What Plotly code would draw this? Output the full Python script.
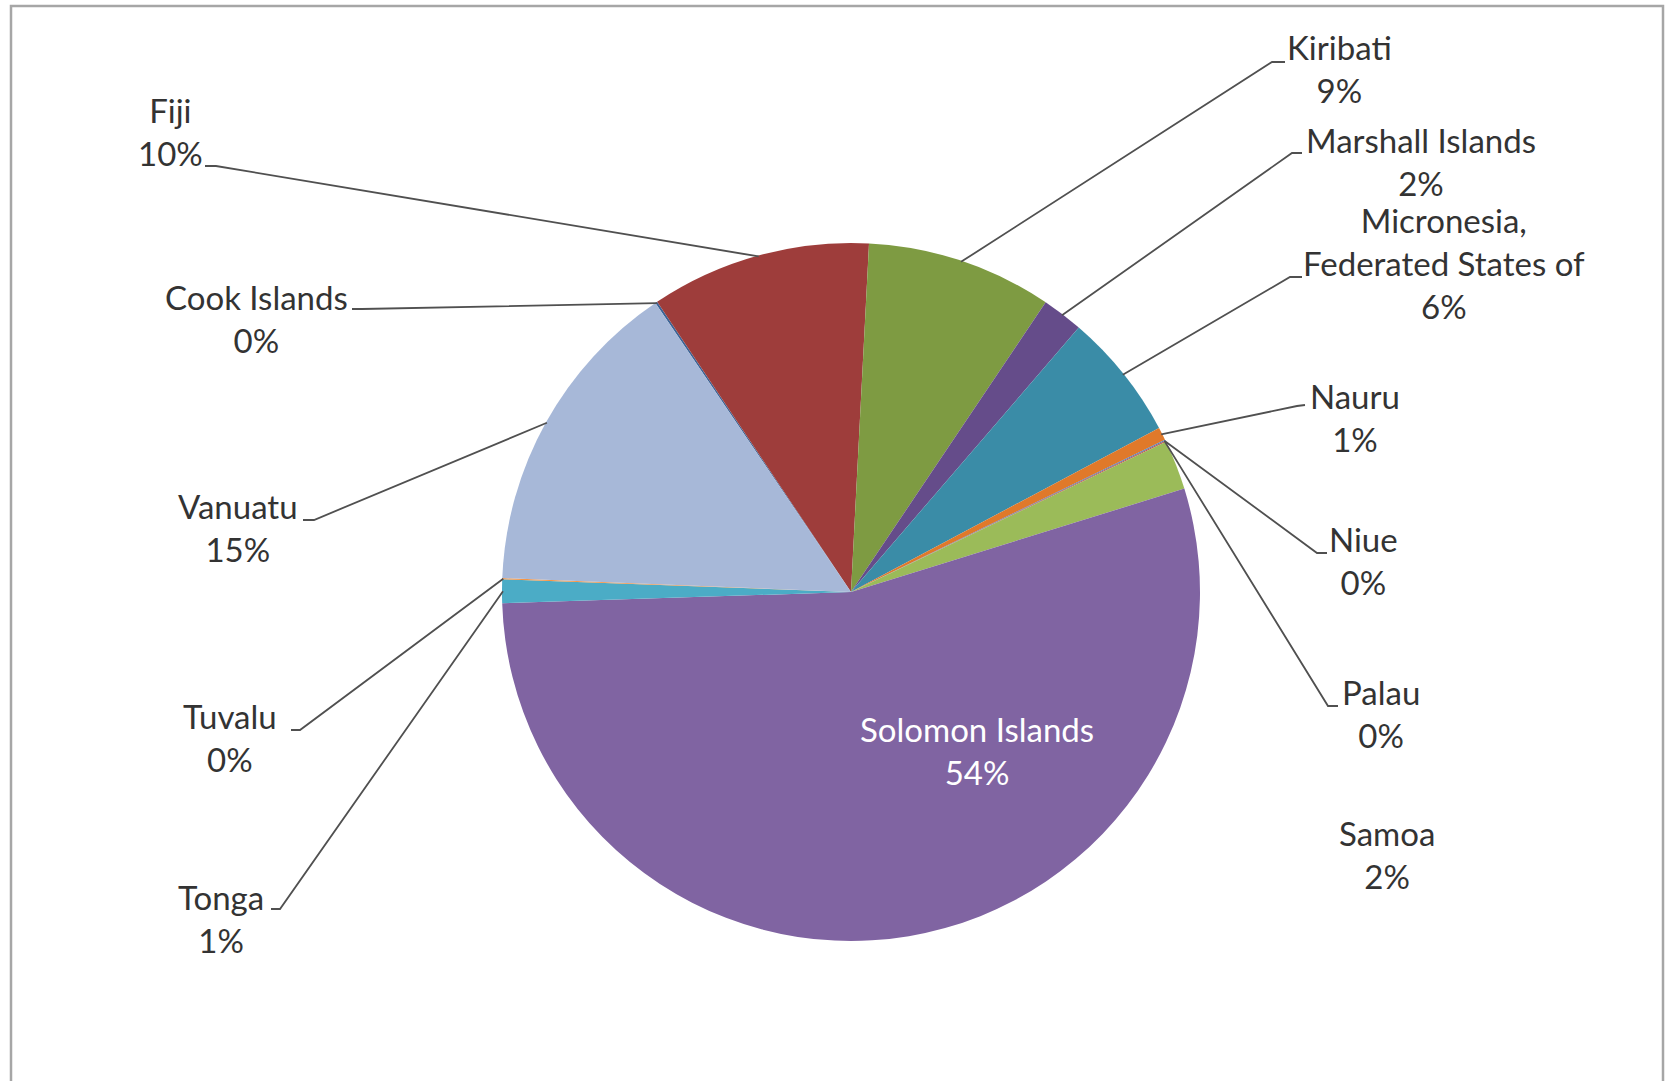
import math
import plotly.graph_objects as go

# ---------------- data ----------------
countries = ["Cook Islands", "Fiji", "Kiribati", "Marshall Islands",
             "Micronesia, Federated States of", "Nauru", "Niue", "Palau",
             "Samoa", "Solomon Islands", "Tonga", "Tuvalu", "Vanuatu"]
shares = [0.1, 10.2, 8.6, 1.9, 5.9, 0.6, 0.05, 0.05, 2.3, 54.3, 1.1, 0.05, 14.9]
label_names = ["Cook Islands", "Fiji", "Kiribati", "Marshall Islands",
               "Micronesia,<br>Federated States of", "Nauru", "Niue", "Palau",
               "Samoa", "Solomon Islands", "Tonga", "Tuvalu", "Vanuatu"]

# ---------------- style ----------------
colors = ["#3C6496", "#9E3D3B", "#7E9B42", "#654C8A", "#3A8CA7", "#E0792A",
          "#4F81BD", "#C0504D", "#9BBB59", "#8064A2", "#4BACC6", "#F79646",
          "#A7B8D8"]

W, H = 1665, 1081
CX, CY, R = 851, 592, 349
ROT = -34.1

# label centre, leader start, leader elbow (pixels)
label_pos = {
    "Cook Islands": ((256, 318), (352, 309), (362, 309)),
    "Fiji": ((170, 131), (205, 166), (216, 166)),
    "Kiribati": ((1339, 69), (1285, 62), (1272, 62)),
    "Marshall Islands": ((1421, 161), (1302, 153), (1292, 153)),
    "Micronesia, Federated States of": ((1444, 263), (1302, 277), (1290, 277)),
    "Nauru": ((1355, 417), (1305, 405), (1297, 406)),
    "Niue": ((1363, 560), (1327, 553), (1317, 553)),
    "Palau": ((1381, 713), (1338, 706), (1328, 706)),
    "Samoa": ((1387, 854), None, None),
    "Solomon Islands": ((977, 750), None, None),
    "Tonga": ((221, 918), (271, 909), (280, 909)),
    "Tuvalu": ((230, 737), (291, 730), (300, 730)),
    "Vanuatu": ((238, 527), (303, 520), (314, 520)),
}


def fx(x):
    return x / W


def fy(y):
    return 1 - y / H


fig = go.Figure(go.Pie(
    labels=countries,
    values=shares,
    sort=False,
    direction="clockwise",
    rotation=ROT,
    marker=dict(colors=colors, line=dict(width=0)),
    textinfo="none",
    hoverinfo="label+percent",
    showlegend=False,
    domain=dict(x=[(CX - R) / W, (CX + R) / W],
                y=[1 - (CY + R) / H, 1 - (CY - R) / H]),
))

total = sum(shares)
annotations = []
shapes = []
cum = 0.0
for name, lab, v in zip(countries, label_names, shares):
    pct = int(v / total * 100 + 0.5)
    mid = math.radians(ROT + (cum + v / 2) / total * 360)
    cum += v
    (lx, ly), start, elbow = label_pos[name]
    col = "white" if name == "Solomon Islands" else "#333333"
    annotations.append(dict(
        x=fx(lx), y=fy(ly), xref="paper", yref="paper",
        text=f"{lab}<br>{pct}%", showarrow=False,
        xanchor="center", yanchor="middle",
        font=dict(family="Lato, 'Open Sans', sans-serif", size=33, color=col),
    ))
    if start is not None:
        ex = CX + (R - 1) * math.sin(mid)
        ey = CY - (R - 1) * math.cos(mid)
        path = (f"M {fx(start[0])} {fy(start[1])} L {fx(elbow[0])} {fy(elbow[1])} "
                f"L {fx(ex)} {fy(ey)}")
        shapes.append(dict(type="path", path=path, xref="paper", yref="paper",
                           line=dict(color="#505050", width=1.8)))

# chart frame
shapes.append(dict(type="rect", xref="paper", yref="paper",
                   x0=fx(11), x1=fx(1663), y0=-0.05, y1=fy(6),
                   line=dict(color="#A6A6A6", width=2.5), fillcolor="rgba(0,0,0,0)",
                   layer="below"))

fig.update_layout(
    width=W, height=H,
    margin=dict(l=0, r=0, t=0, b=0),
    paper_bgcolor="white",
    plot_bgcolor="white",
    annotations=annotations,
    shapes=shapes,
)

fig.write_html("out.html",
               config={"displayModeBar": False},
               post_script="document.body.style.margin='0';document.body.style.overflow='hidden';")
